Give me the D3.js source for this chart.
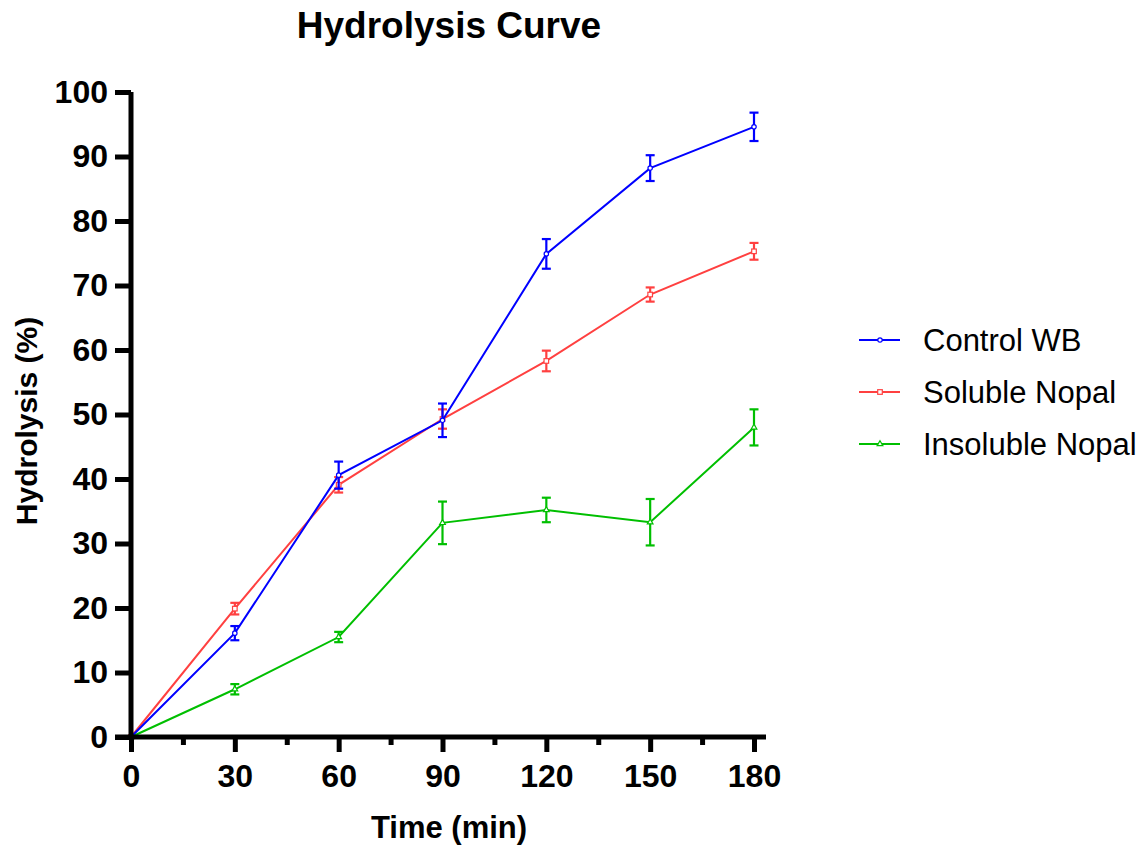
<!DOCTYPE html>
<html>
<head>
<meta charset="utf-8">
<script src="https://cdn.jsdelivr.net/npm/d3@7"></script>
<style>
  html, body { margin: 0; padding: 0; background: #fff; }
  svg { display: block; font-family: "Liberation Sans", Arial, sans-serif; }
</style>
</head>
<body>
<svg id="chart" width="1147" height="846"></svg>
<script>
// ---- data ----
const times = [0, 30, 60, 90, 120, 150, 180];
const seriesNames = ["Control WB", "Soluble Nopal", "Insoluble Nopal"];
const controlWB = [0, 16.1, 40.6, 49.1, 74.9, 88.2, 94.6];
const controlWBErr = [0, 1.1, 2.1, 2.6, 2.3, 2.0, 2.2];
const solubleNopal = [0, 19.9, 39.1, 49.3, 58.3, 68.6, 75.3];
const solubleNopalErr = [0, 0.9, 1.2, 1.5, 1.6, 1.1, 1.3];
const insolubleNopal = [0, 7.4, 15.5, 33.2, 35.2, 33.3, 48.0];
const insolubleNopalErr = [0, 0.8, 0.8, 3.3, 1.9, 3.6, 2.8];
const xTicks = [0, 30, 60, 90, 120, 150, 180];
const xMinorTicks = [15, 45, 75, 105, 135, 165];
const yTicks = [0, 10, 20, 30, 40, 50, 60, 70, 80, 90, 100];
const colors = ["#0000ff", "#ff4040", "#00bf00"];
const markers = ["circle", "square", "triangle"];

const series = [
  { name: seriesNames[0], values: controlWB, err: controlWBErr, color: colors[0], marker: markers[0] },
  { name: seriesNames[1], values: solubleNopal, err: solubleNopalErr, color: colors[1], marker: markers[1] },
  { name: seriesNames[2], values: insolubleNopal, err: insolubleNopalErr, color: colors[2], marker: markers[2] }
];

const svg = d3.select("#chart");
const x = d3.scaleLinear().domain([0, 180]).range([131, 754]);
const y = d3.scaleLinear().domain([0, 100]).range([737, 92]);

// ---- series (drawn back to front: green, red, blue) ----
const line = d3.line().x((d, i) => x(times[i])).y(d => y(d));
const plot = svg.append("g");
[2, 1, 0].forEach(si => {
  const s = series[si];
  const g = plot.append("g");
  g.append("path")
    .attr("d", line(s.values))
    .attr("fill", "none")
    .attr("stroke", s.color)
    .attr("stroke-width", 2);
  const eb = g.selectAll("g.eb").data(s.values.map((v, i) => ({ t: times[i], v, e: s.err[i] })).filter(d => d.e > 0))
    .enter().append("g");
  eb.append("line")
    .attr("x1", d => x(d.t)).attr("x2", d => x(d.t))
    .attr("y1", d => y(d.v - d.e)).attr("y2", d => y(d.v + d.e))
    .attr("stroke", s.color).attr("stroke-width", 2.2);
  [-1, 1].forEach(sign => {
    eb.append("line")
      .attr("x1", d => x(d.t) - 4.5).attr("x2", d => x(d.t) + 4.5)
      .attr("y1", d => y(d.v + sign * d.e)).attr("y2", d => y(d.v + sign * d.e))
      .attr("stroke", s.color).attr("stroke-width", 2.2);
  });
  const pts = s.values.map((v, i) => [x(times[i]), y(v)]);
  pts.forEach(p => drawMarker(g, s.marker, p[0], p[1], s.color));
});

function drawMarker(g, type, cx, cy, color) {
  if (type === "circle") {
    g.append("circle").attr("cx", cx).attr("cy", cy).attr("r", 2.2)
      .attr("fill", "#fff").attr("stroke", color).attr("stroke-width", 1.2);
  } else if (type === "square") {
    g.append("rect").attr("x", cx - 2.3).attr("y", cy - 2.3).attr("width", 4.6).attr("height", 4.6)
      .attr("fill", "#fff").attr("stroke", color).attr("stroke-width", 1.2);
  } else {
    const sym = d3.symbol().type(d3.symbolTriangle).size(14);
    g.append("path").attr("d", sym()).attr("transform", `translate(${cx},${cy})`)
      .attr("fill", "#fff").attr("stroke", color).attr("stroke-width", 1.2);
  }
}

// ---- axes ----
const yAxis = d3.axisLeft(y).tickValues(yTicks).tickSize(16).tickPadding(7).tickFormat(d3.format("d"));
const yg = svg.append("g").attr("transform", "translate(131,0)").call(yAxis);
yg.select(".domain").attr("d", `M0,${y(100)}V${y(0) + 2.5}`).attr("stroke", "#000").attr("stroke-width", 5);
yg.selectAll(".tick line").attr("stroke", "#000").attr("stroke-width", 5);
yg.selectAll(".tick text").attr("font-size", 32).attr("font-weight", "bold").attr("fill", "#000")
  .attr("font-family", "'Liberation Sans', Arial, sans-serif");

const xAxis = d3.axisBottom(x).tickValues(xTicks).tickSize(15).tickPadding(12).tickFormat(d3.format("d"));
const xg = svg.append("g").attr("transform", "translate(0,737)").call(xAxis);
xg.select(".domain").attr("d", `M${x(0) - 16},0H${x(180) + 12}`).attr("stroke", "#000").attr("stroke-width", 5);
xg.selectAll(".tick line").attr("stroke", "#000").attr("stroke-width", 5);
xg.selectAll(".tick text").attr("font-size", 32).attr("font-weight", "bold").attr("fill", "#000")
  .attr("font-family", "'Liberation Sans', Arial, sans-serif");

const xMinor = d3.axisBottom(x).tickValues(xMinorTicks).tickSize(8).tickFormat("");
const xmg = svg.append("g").attr("transform", "translate(0,737)").call(xMinor);
xmg.select(".domain").remove();
xmg.selectAll(".tick line").attr("stroke", "#000").attr("stroke-width", 5);

// ---- titles ----
svg.append("text").attr("x", 449).attr("y", 38).attr("text-anchor", "middle")
  .attr("font-size", 37).attr("font-weight", "bold").text("Hydrolysis Curve");
svg.append("text").attr("x", 449).attr("y", 838).attr("text-anchor", "middle")
  .attr("font-size", 31).attr("font-weight", "bold").text("Time (min)");
svg.append("text").attr("transform", "translate(37,421) rotate(-90)").attr("text-anchor", "middle")
  .attr("font-size", 30).attr("font-weight", "bold").text("Hydrolysis (%)");

// ---- legend ----
const legendY = [340, 392, 444];
series.forEach((s, i) => {
  const g = svg.append("g");
  g.append("line").attr("x1", 859).attr("x2", 900).attr("y1", legendY[i]).attr("y2", legendY[i])
    .attr("stroke", s.color).attr("stroke-width", 2);
  drawMarker(g, s.marker, 880, legendY[i], s.color);
  g.append("text").attr("x", 923).attr("y", legendY[i]).attr("dy", "0.36em")
    .attr("font-size", 31).attr("fill", "#000").text(s.name);
});
</script>
</body>
</html>
